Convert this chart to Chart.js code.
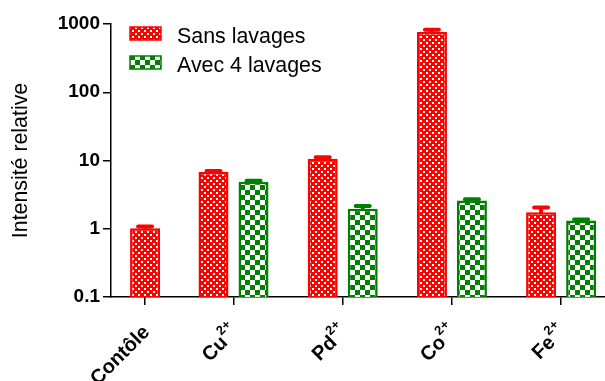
<!DOCTYPE html>
<html>
<head>
<meta charset="utf-8">
<script src="https://cdn.jsdelivr.net/npm/chart.js@4.4.0/dist/chart.umd.min.js"></script>
<style>
  html, body { margin: 0; padding: 0; background: #fff; }
</style>
</head>
<body>
<canvas id="myChart" width="605" height="381"></canvas>
<script>
// categories (ion) and the superscript charge shown next to each
const categories = ['Contôle', 'Cu', 'Pd', 'Co', 'Fe'];
const charges = ['', '2+', '2+', '2+', '2+'];

// relative intensity
const sansLavages    = [1.02, 6.8, 10.6, 765, 1.75];
const sansLavagesErr = [0.06, 0.2, 0.6, 60, 0.3];
const avecLavages    = [null, 4.9, 1.96, 2.6, 1.32];
const avecLavagesErr = [null, 0.15, 0.2, 0.1, 0.05];

const yTicks = [0.1, 1, 10, 100, 1000];

// Contôle only has one bar so its slot is narrower than the others
const groupX = categories.map((c, i) => i === 0 ? 0.19 : i);

const FONT = '"Liberation Sans", Arial, sans-serif';
const canvas = document.getElementById('myChart');
const mainCtx = canvas.getContext('2d');

function checker(color, cell, hole) {
    const c = document.createElement('canvas');
    c.width = c.height = cell * 2;
    const g = c.getContext('2d');
    g.fillStyle = color;
    g.fillRect(0, 0, cell * 2, cell * 2);
    g.fillStyle = '#fff';
    g.fillRect(0, 0, hole, hole);
    g.fillRect(cell, cell, hole, hole);
    return mainCtx.createPattern(c, 'repeat');
}

const errorBars = {
    id: 'errorBars',
    afterDatasetsDraw(chart) {
        const ctx = chart.ctx, y = chart.scales.y;
        chart.data.datasets.forEach((ds, di) => {
            const meta = chart.getDatasetMeta(di);
            ds.errors.forEach((e, i) => {
                if (e == null || ds.data[i] == null) return;
                const bar = meta.data[i];
                const top = y.getPixelForValue(ds.data[i] + e);
                ctx.save();
                ctx.strokeStyle = ds.borderColor;
                ctx.lineWidth = 4;
                ctx.lineCap = 'round';
                ctx.beginPath();
                ctx.moveTo(bar.x, bar.y);
                ctx.lineTo(bar.x, top);
                ctx.moveTo(bar.x - 7, top);
                ctx.lineTo(bar.x + 7, top);
                ctx.stroke();
                ctx.restore();
            });
        });
    }
};

const boxLegend = {
    id: 'boxLegend',
    afterDraw(chart) {
        const ctx = chart.ctx, area = chart.chartArea;
        chart.data.datasets.forEach((ds, i) => {
            const bx = area.left + 19, by = area.top + 3 + i * 29;
            ctx.save();
            ctx.fillStyle = ds.backgroundColor;
            ctx.fillRect(bx, by, 31, 13);
            ctx.strokeStyle = ds.borderColor;
            ctx.lineWidth = 1.5;
            ctx.strokeRect(bx, by, 31, 13);
            ctx.fillStyle = '#000';
            ctx.font = '21.4px ' + FONT;
            ctx.textBaseline = 'alphabetic';
            ctx.fillText(ds.label, bx + 47, by + 15.5);
            ctx.restore();
        });
    }
};

const xLabels = {
    id: 'xLabels',
    afterDraw(chart) {
        const ctx = chart.ctx, xs = chart.scales.x, base = chart.chartArea.bottom;
        categories.forEach((name, i) => {
            const x = xs.getPixelForValue(groupX[i]);
            ctx.save();
            ctx.translate(x + 2, base + 32);
            ctx.rotate(-Math.PI / 4);
            ctx.fillStyle = '#000';
            ctx.textBaseline = 'middle';
            let sw = 0;
            if (charges[i]) {
                ctx.font = 'bold 13px ' + FONT;
                sw = ctx.measureText(charges[i]).width;
                ctx.textAlign = 'left';
                ctx.fillText(charges[i], -sw, -9);
            }
            ctx.font = 'bold 20px ' + FONT;
            ctx.textAlign = 'right';
            ctx.fillText(name, -sw - 0.5, 0);
            ctx.restore();
        });
    }
};

const data = {
    labels: groupX,
    datasets: [
        {
            label: 'Sans lavages',
            data: sansLavages,
            errors: sansLavagesErr,
            backgroundColor: checker('#ff0000', 3, 2),
            borderColor: '#ff0000',
            borderWidth: 2.5
        },
        {
            label: 'Avec 4 lavages',
            data: avecLavages,
            errors: avecLavagesErr,
            backgroundColor: checker('#008000', 5, 5),
            borderColor: '#008000',
            borderWidth: 2.5
        }
    ]
};

const config = {
    type: 'bar',
    data: data,
    options: {
        responsive: false,
        animation: false,
        skipNull: true,
        categoryPercentage: 0.905,
        barPercentage: 0.75,
        maxBarThickness: 30,
        layout: { padding: { top: 24, right: 0, bottom: 0, left: 0 } },
        plugins: {
            legend: { display: false },
            tooltip: { enabled: false }
        },
        scales: {
            x: {
                type: 'linear',
                min: -0.122,
                max: 4.402,
                offset: false,
                afterBuildTicks: (scale) => { scale.ticks = groupX.map(v => ({ value: v })); },
                afterFit: (scale) => { scale.height = 84; },
                ticks: { display: false },
                grid: {
                    drawOnChartArea: false,
                    offset: false,
                    color: '#000',
                    lineWidth: 1.5,
                    tickLength: 8
                },
                border: { color: '#000', width: 1.5 }
            },
            y: {
                type: 'logarithmic',
                min: 0.1,
                max: 1000,
                afterBuildTicks: (scale) => { scale.ticks = yTicks.map(v => ({ value: v })); },
                afterFit: (scale) => { scale.width = 111; },
                ticks: {
                    color: '#000',
                    padding: 3,
                    font: { family: FONT, size: 19, weight: 'bold' },
                    callback: (v) => String(v)
                },
                grid: {
                    drawOnChartArea: false,
                    color: '#000',
                    lineWidth: 1.5,
                    tickLength: 8
                },
                border: { color: '#000', width: 1.5 },
                title: {
                    display: true,
                    text: 'Intensité relative',
                    color: '#000',
                    padding: { top: 8, bottom: 0 },
                    font: { family: FONT, size: 21.33 }
                }
            }
        }
    },
    plugins: [errorBars, boxLegend, xLabels]
};

const myChart = new Chart(canvas, config);
</script>
</body>
</html>
